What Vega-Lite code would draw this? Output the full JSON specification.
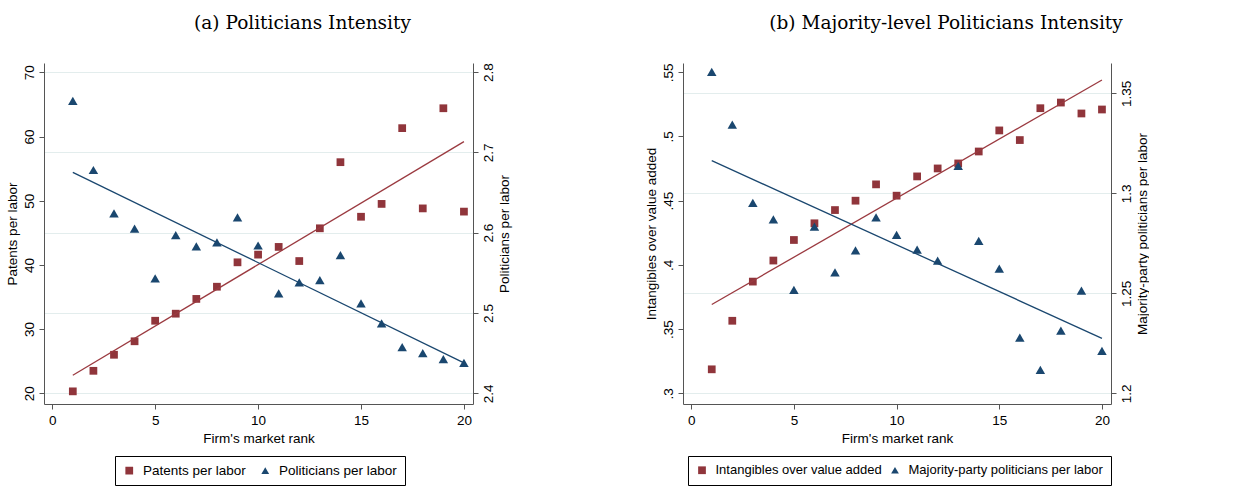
{
  "$schema": "https://vega.github.io/schema/vega-lite/v6.json",
  "padding": {"left": 5, "top": 14, "right": 0, "bottom": 0},
  "datasets": {
    "a": [
      {"rank": 1, "patents": 20.3, "politicians": 2.764},
      {"rank": 2, "patents": 23.5, "politicians": 2.678},
      {"rank": 3, "patents": 26.0, "politicians": 2.624},
      {"rank": 4, "patents": 28.1, "politicians": 2.605},
      {"rank": 5, "patents": 31.3, "politicians": 2.543},
      {"rank": 6, "patents": 32.4, "politicians": 2.597},
      {"rank": 7, "patents": 34.7, "politicians": 2.583},
      {"rank": 8, "patents": 36.6, "politicians": 2.588},
      {"rank": 9, "patents": 40.4, "politicians": 2.619},
      {"rank": 10, "patents": 41.6, "politicians": 2.584},
      {"rank": 11, "patents": 42.8, "politicians": 2.5245},
      {"rank": 12, "patents": 40.6, "politicians": 2.538},
      {"rank": 13, "patents": 45.7, "politicians": 2.541},
      {"rank": 14, "patents": 56.0, "politicians": 2.572},
      {"rank": 15, "patents": 47.5, "politicians": 2.512},
      {"rank": 16, "patents": 49.5, "politicians": 2.487},
      {"rank": 17, "patents": 61.3, "politicians": 2.4575},
      {"rank": 18, "patents": 48.8, "politicians": 2.45},
      {"rank": 19, "patents": 64.4, "politicians": 2.4425},
      {"rank": 20, "patents": 48.3, "politicians": 2.438}
    ],
    "a_fit": [
      {"rank": 1, "patents": 22.8, "politicians": 2.675},
      {"rank": 20, "patents": 59.2, "politicians": 2.438}
    ],
    "b": [
      {"rank": 1, "intangibles": 0.3187, "majority": 1.3607},
      {"rank": 2, "intangibles": 0.3565, "majority": 1.3343},
      {"rank": 3, "intangibles": 0.387, "majority": 1.2952},
      {"rank": 4, "intangibles": 0.4034, "majority": 1.287},
      {"rank": 5, "intangibles": 0.4194, "majority": 1.2517},
      {"rank": 6, "intangibles": 0.4324, "majority": 1.2833},
      {"rank": 7, "intangibles": 0.4427, "majority": 1.2605},
      {"rank": 8, "intangibles": 0.45, "majority": 1.2715},
      {"rank": 9, "intangibles": 0.4627, "majority": 1.288},
      {"rank": 10, "intangibles": 0.4539, "majority": 1.2792},
      {"rank": 11, "intangibles": 0.4689, "majority": 1.2718},
      {"rank": 12, "intangibles": 0.4751, "majority": 1.2663},
      {"rank": 13, "intangibles": 0.479, "majority": 1.3137},
      {"rank": 14, "intangibles": 0.4883, "majority": 1.2762},
      {"rank": 15, "intangibles": 0.5047, "majority": 1.2623},
      {"rank": 16, "intangibles": 0.4972, "majority": 1.2278},
      {"rank": 17, "intangibles": 0.522, "majority": 1.2117},
      {"rank": 18, "intangibles": 0.5264, "majority": 1.2313},
      {"rank": 19, "intangibles": 0.5179, "majority": 1.2513},
      {"rank": 20, "intangibles": 0.521, "majority": 1.2212}
    ],
    "b_fit": [
      {"rank": 1, "intangibles": 0.3692, "majority": 1.3163},
      {"rank": 20, "intangibles": 0.544, "majority": 1.2275}
    ]
  },
  "hconcat": [
    {
      "width": 429,
      "height": 341,
      "title": {"text": "(a) Politicians Intensity", "dx": 44},
      "layer": [
        {
          "layer": [
            {
              "data": {"name": "a"},
              "mark": {"type": "point", "filled": true, "opacity": 1, "size": 60},
              "encoding": {
                "x": {"field": "rank", "type": "quantitative", "scale": {"domain": [-0.4, 20.44], "nice": false, "zero": false}, "axis": {"values": [0, 5, 10, 15, 20], "title": "Firm's market rank"}},
                "y": {"field": "patents", "type": "quantitative", "scale": {"domain": [18.33, 71.45], "nice": false, "zero": false}, "axis": {"orient": "left", "values": [20, 30, 40, 50, 60, 70], "title": "Patents per labor"}},
                "color": {"datum": "Patents per labor", "scale": {"domain": ["Patents per labor", "Politicians per labor"], "range": ["#90353b", "#1a476f"]}, "legend": {"title": null, "orient": "none", "legendX": 71, "legendY": 393, "columns": 2, "columnPadding": 12}},
                "shape": {"datum": "Patents per labor", "scale": {"domain": ["Patents per labor", "Politicians per labor"], "range": ["square", "triangle-up"]}, "legend": {"title": null, "orient": "none", "legendX": 71, "legendY": 393, "columns": 2, "columnPadding": 12}}
              }
            },
            {
              "data": {"name": "a_fit"},
              "mark": {"type": "line", "color": "#9b3a40", "strokeWidth": 1.3},
              "encoding": {
                "x": {"field": "rank", "type": "quantitative"},
                "y": {"field": "patents", "type": "quantitative"}
              }
            }
          ]
        },
        {
          "layer": [
            {
              "data": {"name": "a"},
              "mark": {"type": "point", "filled": true, "opacity": 1, "size": 90},
              "encoding": {
                "x": {"field": "rank", "type": "quantitative"},
                "y": {"field": "politicians", "type": "quantitative", "scale": {"domain": [2.3867, 2.8112], "nice": false, "zero": false}, "axis": {"orient": "right", "values": [2.4, 2.5, 2.6, 2.7, 2.8], "format": ".1f", "grid": true, "title": "Politicians per labor"}},
                "color": {"datum": "Politicians per labor"},
                "shape": {"datum": "Politicians per labor"}
              }
            },
            {
              "data": {"name": "a_fit"},
              "mark": {"type": "line", "color": "#1a476f", "strokeWidth": 1.3},
              "encoding": {
                "x": {"field": "rank", "type": "quantitative"},
                "y": {"field": "politicians", "type": "quantitative"}
              }
            }
          ]
        }
      ],
      "resolve": {"scale": {"y": "independent"}}
    },
    {
      "width": 428,
      "height": 341,
      "title": {"text": "(b) Majority-level Politicians Intensity", "dx": 49},
      "layer": [
        {
          "layer": [
            {
              "data": {"name": "b"},
              "mark": {"type": "point", "filled": true, "opacity": 1, "size": 60},
              "encoding": {
                "x": {"field": "rank", "type": "quantitative", "scale": {"domain": [-0.4, 20.44], "nice": false, "zero": false}, "axis": {"values": [0, 5, 10, 15, 20], "title": "Firm's market rank"}},
                "y": {"field": "intangibles", "type": "quantitative", "scale": {"domain": [0.2917, 0.5572], "nice": false, "zero": false}, "axis": {"orient": "left", "values": [0.3, 0.35, 0.4, 0.45, 0.5, 0.55], "labelExpr": "substring(format(datum.value, '.2~f'), 1)", "title": "Intangibles over value added"}},
                "color": {"datum": "Intangibles over value added", "scale": {"domain": ["Intangibles over value added", "Majority-party politicians per labor"], "range": ["#90353b", "#1a476f"]}, "legend": {"title": null, "orient": "none", "legendX": 5, "legendY": 393, "columns": 2, "columnPadding": 6, "labelFontSize": 13}},
                "shape": {"datum": "Intangibles over value added", "scale": {"domain": ["Intangibles over value added", "Majority-party politicians per labor"], "range": ["square", "triangle-up"]}, "legend": {"title": null, "orient": "none", "legendX": 5, "legendY": 393, "columns": 2, "columnPadding": 6, "labelFontSize": 13}}
              }
            },
            {
              "data": {"name": "b_fit"},
              "mark": {"type": "line", "color": "#9b3a40", "strokeWidth": 1.3},
              "encoding": {
                "x": {"field": "rank", "type": "quantitative"},
                "y": {"field": "intangibles", "type": "quantitative"}
              }
            }
          ]
        },
        {
          "layer": [
            {
              "data": {"name": "b"},
              "mark": {"type": "point", "filled": true, "opacity": 1, "size": 90},
              "encoding": {
                "x": {"field": "rank", "type": "quantitative"},
                "y": {"field": "majority", "type": "quantitative", "scale": {"domain": [1.19465, 1.36515], "nice": false, "zero": false}, "axis": {"orient": "right", "values": [1.2, 1.25, 1.3, 1.35], "format": ".2~f", "grid": true, "title": "Majority-party politicians per labor"}},
                "color": {"datum": "Majority-party politicians per labor"},
                "shape": {"datum": "Majority-party politicians per labor"}
              }
            },
            {
              "data": {"name": "b_fit"},
              "mark": {"type": "line", "color": "#1a476f", "strokeWidth": 1.3},
              "encoding": {
                "x": {"field": "rank", "type": "quantitative"},
                "y": {"field": "majority", "type": "quantitative"}
              }
            }
          ]
        }
      ],
      "resolve": {"scale": {"y": "independent"}}
    }
  ],
  "spacing": 133,
  "resolve": {"scale": {"color": "independent", "shape": "independent"}},
  "config": {
    "font": "Liberation Sans",
    "view": {"stroke": null},
    "title": {"font": "DejaVu Serif", "fontSize": 18.5, "fontWeight": "normal", "color": "#000", "anchor": "middle", "offset": 30},
    "axis": {
      "grid": false,
      "labelFontSize": 13.5,
      "titleFontSize": 13.5,
      "titleFontWeight": "normal",
      "labelColor": "#000",
      "titleColor": "#000",
      "domainColor": "#555",
      "tickColor": "#555",
      "tickSize": 5,
      "labelPadding": 3,
      "titlePadding": 3,
      "gridColor": "#e3eded",
      "gridWidth": 1.2
    },
    "axisX": {"labelPadding": 4, "titlePadding": 5},
    "axisY": {"labelAngle": -90},
    "axisRight": {"titleAngle": -90, "titleBaseline": "top"},
    "legend": {
      "direction": "horizontal",
      "strokeColor": "#000",
      "padding": 7.5,
      "labelFontSize": 13.5,
      "labelColor": "#000",
      "labelLimit": 0,
      "labelOffset": 7,
      "symbolSize": 60,
      "symbolStrokeWidth": 0
    }
  }
}
